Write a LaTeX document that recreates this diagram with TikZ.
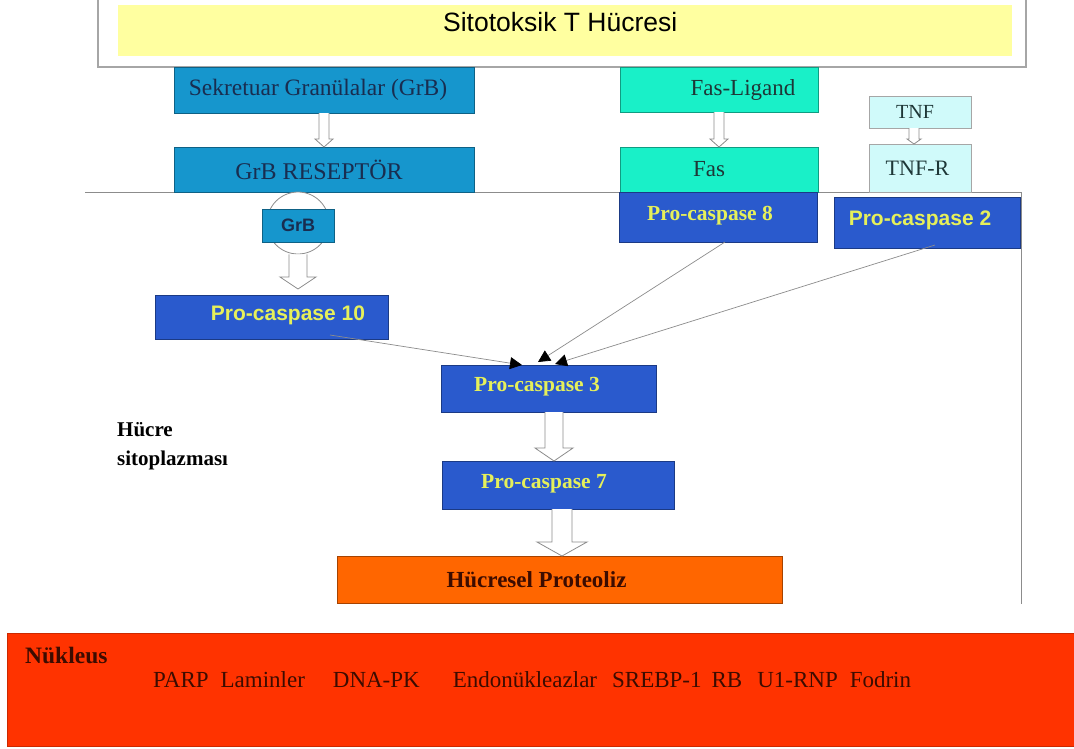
\documentclass[tikz,border=0pt]{standalone}
\usepackage{fontspec}
\usepackage{graphicx}
\setmainfont{Liberation Serif}
\setsansfont{Liberation Sans}
\usetikzlibrary{calc,arrows.meta}
\definecolor{cyell}{RGB}{255,255,160}
\definecolor{cgrb}{RGB}{22,150,205}
\definecolor{cgrbtxt}{RGB}{25,45,80}
\definecolor{cfas}{RGB}{25,240,200}
\definecolor{cfastxt}{RGB}{30,55,55}
\definecolor{ctnf}{RGB}{208,250,250}
\definecolor{cpc}{RGB}{42,90,205}
\definecolor{cpctxt}{RGB}{230,240,90}
\definecolor{corange}{RGB}{255,102,0}
\definecolor{cnuc}{RGB}{255,51,0}
\definecolor{cnuctxt}{RGB}{60,12,0}
\definecolor{cline}{RGB}{140,140,140}
\newcommand\fs[1]{\fontsize{#1}{#1}\selectfont}
\newcommand\off[3]{\hspace*{#1}\raisebox{#2}{#3}}
\newcommand\harrow[5]{\draw[harr] ($(#1)+(-#3,0)$) -- ($(#2)+(-#3,-#5)$) -- ($(#2)+(-#4,-#5)$) -- (#2) -- ($(#2)+(#4,-#5)$) -- ($(#2)+(#3,-#5)$) -- ($(#1)+(#3,0)$);}
\begin{document}
\begin{tikzpicture}[x=1pt,y=-1pt,
  box/.style={anchor=north west,inner sep=0pt,outer sep=0pt,draw=#1!65!black,line width=0.6pt,fill=#1},
  conn/.style={draw=cline,line width=0.7pt,-{Triangle[length=12pt,width=12pt,color=black]}},
  harr/.style={draw=cline,line width=0.8pt,fill=white,line join=miter},
  pcserif/.style={text=cpctxt,font=\bfseries\fs{21.5}},
  pcsans/.style={text=cpctxt,font=\sffamily\bfseries\fs{21}},
]
\useasboundingbox (0,0) rectangle (1074,748);
\fill[white] (0,0) rectangle (1074,748);

% T cell
\node[anchor=north west,draw=black!35,line width=2pt,fill=white,minimum width=928pt,minimum height=74pt,inner sep=0pt] (tcell) at (97,-8) {};
\node[anchor=north west,fill=cyell,minimum width=894pt,minimum height=51pt,inner sep=0pt] (tcin) at (118,5) {\off{-10pt}{17pt}{\sffamily\fs{26.5}Sitotoksik T Hücresi}};

% membrane line and right border
\coordinate (mL) at (85,192);
\coordinate (mR) at (1021,192);
\coordinate (mB) at (1021,604);
\draw[cline,line width=0.8pt] (mL) -- (mR) -- (mB);

% upper boxes
\node[box=cgrb,minimum width=300pt,minimum height=46pt] (sek) at (174,67) {\off{-12pt}{0pt}{\fs{23.5}\color{cgrbtxt}Sekretuar Granülalar (GrB)}};
\node[box=cgrb,minimum width=300pt,minimum height=45pt] (grbr) at (174,147) {\off{-10pt}{0pt}{\fs{24}\color{cgrbtxt}GrB RESEPTÖR}};
\node[box=cfas,minimum width=198pt,minimum height=45pt] (fasl) at (620,67) {\off{48pt}{0pt}{\fs{23}\color{cfastxt}Fas-Ligand}};
\node[box=cfas,minimum width=198pt,minimum height=45pt] (fas) at (620,147) {\off{-20pt}{0pt}{\fs{23}\color{cfastxt}Fas}};
\node[box=ctnf,draw=black!35,minimum width=102pt,minimum height=32pt] (tnf) at (869,96) {\off{-10pt}{0pt}{\fs{20}\color{cfastxt}TNF}};
\node[box=ctnf,draw=black!35,minimum width=102pt,minimum height=48pt] (tnfr) at (869,144) {\off{-5pt}{0pt}{\fs{22}\color{cfastxt}TNF-R}};

% GrB vesicle
\node[circle,draw=cline,line width=0.8pt,fill=white,minimum size=62pt,inner sep=0pt] (grbc) at (298,223) {};
\node[box=cgrb,anchor=center,minimum width=72pt,minimum height=33pt] (grb) at (298,225.5) {\sffamily\bfseries\fs{18}\color{cgrbtxt}GrB};

% caspases
\node[box=cpc,minimum width=198pt,minimum height=50pt,pcserif] (pc8) at (619,192) {\off{-16pt}{8pt}{Pro-caspase 8}};
\node[box=cpc,minimum width=186pt,minimum height=51pt,pcsans] (pc2) at (834,197) {\off{-14pt}{9pt}{Pro-caspase 2}};
\node[box=cpc,minimum width=233pt,minimum height=44pt,pcsans] (pc10) at (155,295) {\off{33pt}{8pt}{Pro-caspase 10}};
\node[box=cpc,minimum width=215pt,minimum height=47pt,pcserif] (pc3) at (441,365) {\off{-23pt}{9pt}{Pro-caspase 3}};
\node[box=cpc,minimum width=232pt,minimum height=48pt,pcserif] (pc7) at (442,461) {\off{-28pt}{8pt}{Pro-caspase 7}};
\node[box=corange,minimum width=445pt,minimum height=47pt] (prot) at (337,556) {\off{-46pt}{0pt}{\bfseries\fs{23}\color{cnuctxt}Hücresel Proteoliz}};

% cytoplasm label
\node[anchor=north west,align=left,inner sep=0pt,font=\bfseries\fs{21},text=black] (cyto) at (117,422.5) {Hücre\\[8pt]sitoplazması};

% nucleus
\node[anchor=north west,fill=cnuc,draw=cnuc!80!black,line width=1pt,minimum width=1072pt,minimum height=113pt,inner sep=0pt] (nuc) at (7,633) {};
\node[anchor=base west,inner sep=0pt,text=cnuctxt] (nuclbl) at (25,663) {\bfseries\fs{23.5}Nükleus};
\node[anchor=base west,inner sep=0pt,text=cnuctxt] (nuclist) at (153,687) {\fs{23}PARP\hspace{12pt}Laminler\hspace{28pt}DNA-PK\hspace{33pt}Endonükleazlar\hspace{15pt}SREBP-1\hspace{10pt}RB\hspace{15pt}U1-RNP\hspace{12pt}Fodrin};

% hollow arrows
\coordinate (a1s) at (sek.south); \coordinate (a1e) at (grbr.north);
\harrow{a1s}{a1e}{5}{9}{8}
\coordinate (a2s) at (fasl.south); \coordinate (a2e) at (fas.north);
\harrow{a2s}{a2e}{5}{9}{8}
\coordinate (a3s) at ($(tnf.south)+(-6,0)$); \coordinate (a3e) at (a3s |- tnfr.north);
\harrow{a3s}{a3e}{5}{7}{5}
\coordinate (a4s) at (grbc.south); \coordinate (a4e) at ($(grbc.south |- pc10.north)+(0,-6)$);
\harrow{a4s}{a4e}{9}{18}{12}
\coordinate (a5s) at ($(pc3.south)+(5.5,0)$); \coordinate (a5e) at (a5s |- pc7.north);
\harrow{a5s}{a5e}{9}{19}{13}
\coordinate (a6s) at ($(pc7.south)+(4,0)$); \coordinate (a6e) at (a6s |- prot.north);
\harrow{a6s}{a6e}{10}{25}{14}

% converging arrows
\coordinate (e1) at ($(pc3.north west)+(81,0)$);
\coordinate (e2) at ($(pc3.north west)+(97,-3)$);
\coordinate (e3) at ($(pc3.north west)+(114,-1)$);
\draw[conn] ($(pc10.south west)+(175,-4)$) -- (e1);
\draw[conn] ($(pc8.south west)+(106,0)$) -- (e2);
\draw[conn] ($(pc2.south west)+(101,-3)$) -- (e3);
\end{tikzpicture}
\end{document}
